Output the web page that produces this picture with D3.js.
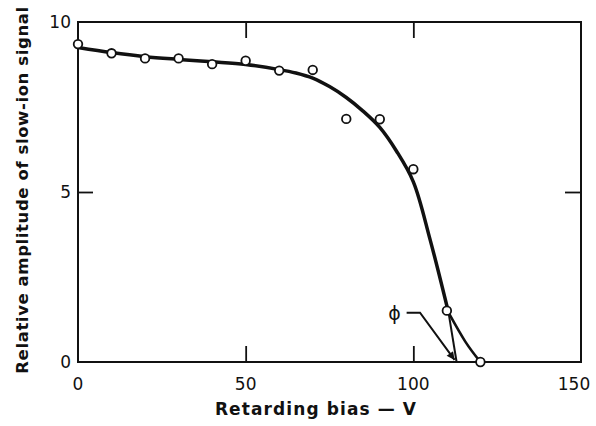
<!DOCTYPE html>
<html>
<head>
<meta charset="utf-8">
<script src="https://cdn.jsdelivr.net/npm/d3@7"></script>
<style>
  body { margin: 0; background: #fff; }
  svg text { font-family: "DejaVu Sans", sans-serif; fill: #111; }
</style>
</head>
<body>
<div id="graph"></div>
<script>
// Points mesurés
const biasV = [0, 10, 20, 30, 40, 50, 60, 70, 80, 90, 100, 110, 120];
const amplitude = [9.35, 9.08, 8.93, 8.93, 8.76, 8.86, 8.57, 8.59, 7.15, 7.14, 5.67, 1.51, 0];

// Courbe lissée
const fitX = [0, 10, 20, 30, 40, 50, 60, 65, 70, 75, 80, 85, 90, 95, 100, 105, 110.5];
const fitY = [9.25, 9.1, 8.98, 8.9, 8.83, 8.75, 8.6, 8.5, 8.35, 8.1, 7.78, 7.38, 6.9, 6.2, 5.3, 3.6, 1.45];
const tailX = [110.5, 115.5, 120];
const tailY = [1.45, 0.6, 0];
// Tangente vers l'axe
const tangentX = [110.5, 112.9];
const tangentY = [1.45, 0];
// Flèche du label phi
const arrowX = [98, 102, 112.3];
const arrowY = [1.45, 1.45, 0.06];

const xTicks = [0, 50, 100, 150];
const yTicks = [0, 5, 10];

const svg = d3.select("#graph")
  .append("svg")
  .attr("width", 596)
  .attr("height", 426);

const x = d3.scaleLinear().domain([0, 150]).range([78, 581]);
const y = d3.scaleLinear().domain([0, 10]).range([362, 22]);

// Cadre
svg.append("rect")
  .attr("x", x(0)).attr("y", y(10))
  .attr("width", x(150) - x(0)).attr("height", y(0) - y(10))
  .attr("fill", "none").attr("stroke", "#111").attr("stroke-width", 2);

// Graduations internes
svg.append("g")
  .attr("transform", `translate(0,${y(0)})`)
  .call(d3.axisTop(x).tickValues([50, 100]).tickSize(16).tickFormat(""))
  .call(g => g.select(".domain").remove());
svg.append("g")
  .attr("transform", `translate(0,${y(10)})`)
  .call(d3.axisBottom(x).tickValues([50, 100]).tickSize(16).tickFormat(""))
  .call(g => g.select(".domain").remove());
svg.append("g")
  .attr("transform", `translate(${x(0)},0)`)
  .call(d3.axisRight(y).tickValues([5]).tickSize(15).tickFormat(""))
  .call(g => g.select(".domain").remove());
svg.append("g")
  .attr("transform", `translate(${x(150)},0)`)
  .call(d3.axisLeft(y).tickValues([5]).tickSize(16).tickFormat(""))
  .call(g => g.select(".domain").remove());
svg.selectAll(".tick line").attr("stroke", "#111").attr("stroke-width", 1.8);

// Labels des graduations
svg.selectAll(".xlab")
  .data(xTicks)
  .enter().append("text")
  .attr("x", d => x(d) - (d === 150 ? 7 : 0))
  .attr("y", 390)
  .attr("text-anchor", "middle")
  .style("font-size", "17px")
  .text(d => d);

svg.selectAll(".ylab")
  .data(yTicks)
  .enter().append("text")
  .attr("x", 71)
  .attr("y", d => y(d) + 6)
  .attr("text-anchor", "end")
  .style("font-size", "17px")
  .text(d => d);

// Titres des axes
svg.append("text")
  .attr("x", 316)
  .attr("y", 415)
  .attr("text-anchor", "middle")
  .style("font-size", "17px")
  .style("font-weight", "600")
  .style("letter-spacing", "1.1px")
  .text("Retarding bias — V");

svg.append("text")
  .attr("transform", "rotate(-90)")
  .attr("x", -190)
  .attr("y", 28)
  .attr("text-anchor", "middle")
  .style("font-size", "16.5px")
  .style("font-weight", "600")
  .style("letter-spacing", "0.6px")
  .text("Relative amplitude of slow-ion signal");

// Courbe
const line = d3.line().x(d => x(d[0])).y(d => y(d[1]));

svg.append("path")
  .datum(d3.zip(fitX, fitY))
  .attr("d", line.curve(d3.curveCatmullRom.alpha(0.5)))
  .attr("fill", "none").attr("stroke", "#111").attr("stroke-width", 3.5)
  .attr("stroke-linejoin", "round");

svg.append("path")
  .datum(d3.zip(tailX, tailY))
  .attr("d", line.curve(d3.curveNatural))
  .attr("fill", "none").attr("stroke", "#111").attr("stroke-width", 2.6);

svg.append("path")
  .datum(d3.zip(tangentX, tangentY))
  .attr("d", line.curve(d3.curveLinear))
  .attr("fill", "none").attr("stroke", "#111").attr("stroke-width", 2);

// Flèche
svg.append("defs").append("marker")
  .attr("id", "arrow")
  .attr("viewBox", "0 0 10 10")
  .attr("refX", 10).attr("refY", 5)
  .attr("markerWidth", 6).attr("markerHeight", 4)
  .attr("markerUnits", "strokeWidth")
  .attr("orient", "auto")
  .append("path")
  .attr("d", "M0,0 L10,5 L0,10 Z")
  .attr("fill", "#111");

svg.append("path")
  .datum(d3.zip(arrowX, arrowY))
  .attr("d", line.curve(d3.curveLinear))
  .attr("fill", "none").attr("stroke", "#111").attr("stroke-width", 2)
  .attr("marker-end", "url(#arrow)");

svg.append("text")
  .attr("x", x(arrowX[0]) - 12)
  .attr("y", y(arrowY[0]) + 7)
  .attr("text-anchor", "middle")
  .style("font-size", "19px")
  .text("ϕ");

// Points
svg.selectAll(".pt")
  .data(d3.zip(biasV, amplitude))
  .enter().append("circle")
  .attr("cx", d => x(d[0]))
  .attr("cy", d => y(d[1]))
  .attr("r", 4.3)
  .attr("fill", "#fff")
  .attr("stroke", "#111")
  .attr("stroke-width", 1.8);
</script>
</body>
</html>
